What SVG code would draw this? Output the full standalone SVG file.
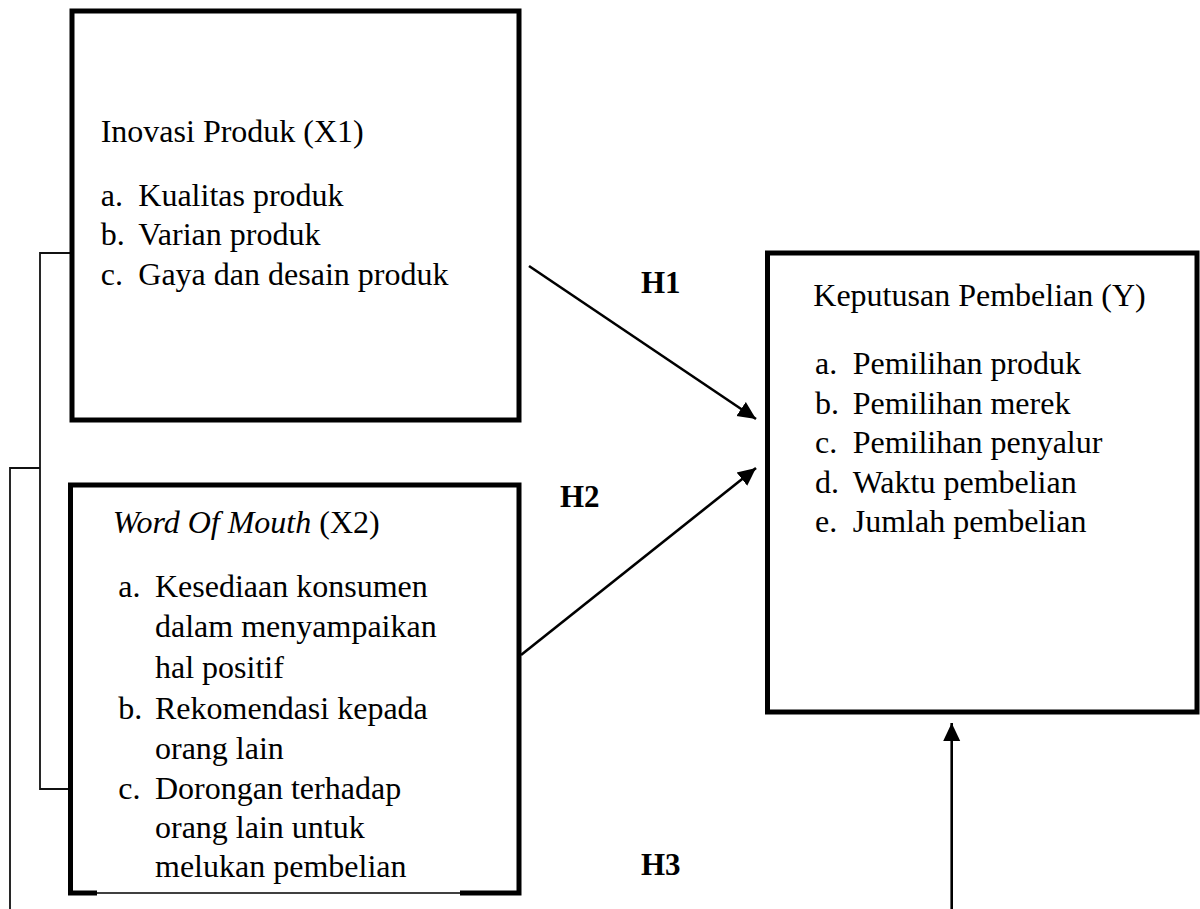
<svg xmlns="http://www.w3.org/2000/svg" width="1200" height="909" viewBox="0 0 1200 909">
<style>
text{font-family:"Liberation Serif","Times New Roman",serif;font-size:32px;fill:#000}
.box{fill:none;stroke:#000;stroke-width:5}
.thin{fill:none;stroke:#111;stroke-width:1.8}
.conn{fill:none;stroke:#000;stroke-width:2.6}
.h{font-weight:bold;font-size:31px}
</style>
<defs>
<marker id="ah" markerUnits="userSpaceOnUse" markerWidth="20" markerHeight="20" viewBox="0 0 20 20" refX="18" refY="10" orient="auto">
<path d="M0,1.5 L18,10 L0,18.5 Z" fill="#000"/>
</marker>
</defs>
<rect width="1200" height="909" fill="#fff"/>
<g id="bracket">
<path class="thin" d="M70,253 H40 V789 H70"/>
<path class="thin" d="M40,468 H10 V909"/>
</g>
<g id="x1">
<rect class="box" x="72" y="11" width="447" height="409"/>
<text x="100.7" y="141.7">Inovasi Produk (X1)</text>
<text x="100.7" y="205.5">a.</text><text x="138.3" y="205.5">Kualitas produk</text>
<text x="100.7" y="245">b.</text><text x="138.3" y="245">Varian produk</text>
<text x="100.7" y="285">c.</text><text x="138.3" y="285">Gaya dan desain produk</text>
</g>
<g id="x2">
<path class="box" d="M97,893 H70.5 V485 H519 V893 H460"/>
<path d="M97,893 H460" stroke="#000" stroke-width="1.6" fill="none"/>
<text x="112.7" y="533"><tspan font-style="italic">Word Of Mouth</tspan> (X2)</text>
<text x="118.3" y="597">a.</text><text x="155" y="597">Kesediaan konsumen</text>
<text x="155" y="637">dalam menyampaikan</text>
<text x="155" y="678">hal positif</text>
<text x="118.3" y="719">b.</text><text x="155" y="719">Rekomendasi kepada</text>
<text x="155" y="759">orang lain</text>
<text x="118.3" y="799">c.</text><text x="155" y="799">Dorongan terhadap</text>
<text x="155" y="838">orang lain untuk</text>
<text x="155" y="877">melukan pembelian</text>
</g>
<g id="y">
<rect class="box" x="767.5" y="253" width="429.5" height="459"/>
<text x="813.3" y="306">Keputusan Pembelian (Y)</text>
<text x="815" y="374">a.</text><text x="852.7" y="374">Pemilihan produk</text>
<text x="815" y="413.5">b.</text><text x="852.7" y="413.5">Pemilihan merek</text>
<text x="815" y="453">c.</text><text x="852.7" y="453">Pemilihan penyalur</text>
<text x="815" y="492.5">d.</text><text x="852.7" y="492.5">Waktu pembelian</text>
<text x="815" y="532">e.</text><text x="852.7" y="532">Jumlah pembelian</text>
</g>
<g id="connectors">
<line class="conn" x1="529" y1="266" x2="756" y2="419" marker-end="url(#ah)"/>
<line class="conn" x1="521" y1="655" x2="756" y2="468" marker-end="url(#ah)"/>
<line class="conn" x1="951.7" y1="909" x2="951.7" y2="723" marker-end="url(#ah)"/>
</g>
<g id="labels">
<text class="h" x="641" y="292.7">H1</text>
<text class="h" x="560" y="507">H2</text>
<text class="h" x="641" y="875">H3</text>
</g>
</svg>
